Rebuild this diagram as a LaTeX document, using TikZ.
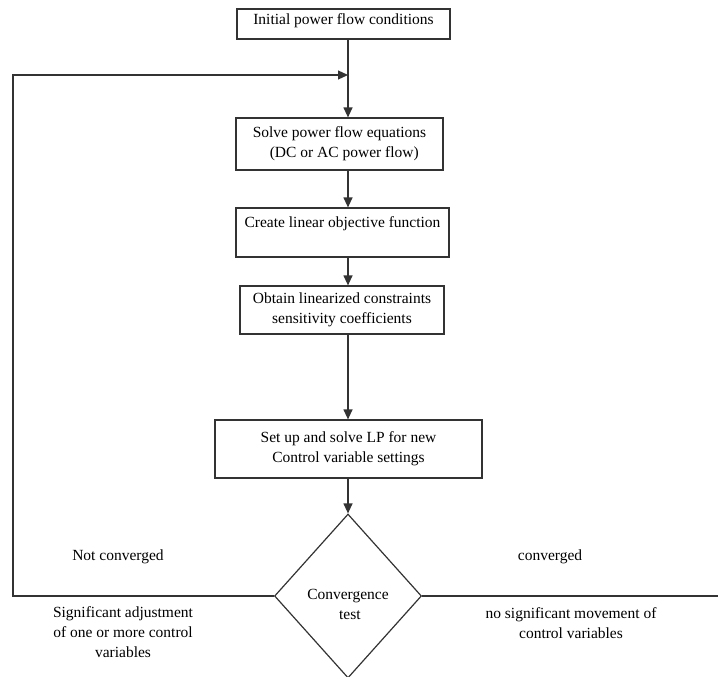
\documentclass[tikz,border=0pt]{standalone}
\usepackage{fontspec}
\setmainfont{Liberation Serif}
\usetikzlibrary{shapes.geometric,arrows.meta}
\begin{document}
\begin{tikzpicture}[x=1pt,y=-1pt,
    font=\fontsize{15.5}{20}\selectfont,
    stepbox/.style={draw=black!80,line width=1.2pt,align=center,inner sep=0pt},
    flow/.style={draw=black!80,line width=1.2pt,-{Triangle[length=10pt,width=9pt]}},
    plain/.style={draw=black!80,line width=1.2pt},
    lbl/.style={align=center,inner sep=0pt}]
    \useasboundingbox (0,0) rectangle (718,677);

    % process boxes
    \node[stepbox,minimum width=213pt,minimum height=30pt,text depth=9pt] (init) at (343.5,24) {Initial power flow conditions};
    \node[stepbox,align=left,minimum width=207pt,minimum height=52pt] (solve) at (339.5,144) {Solve power flow equations\\ \hspace*{1.1em}(DC or AC power flow)};
    \node[stepbox,minimum width=213pt,minimum height=49pt] (objective) at (342.5,232.5) {Create linear objective function\\ ~};
    \node[stepbox,minimum width=204pt,minimum height=48pt] (sens) at (342,310) {Obtain linearized constraints\\sensitivity coefficients};
    \node[stepbox,minimum width=267pt,minimum height=58pt] (lp) at (348.5,449) {Set up and solve LP for new\\Control variable settings};

    % decision
    \node[diamond,draw=black!80,line width=1.2pt,minimum width=147pt,minimum height=164pt,inner sep=0pt] (test) at (348,596) {};
    \node[lbl] (testtxt) at (348,604) {Convergence\\ \ test};

    % main flow
    \draw[flow] (init.south -| test.north) -- (solve.north -| test.north);
    \draw[flow] (solve.south -| test.north) -- (objective.north -| test.north);
    \draw[flow] (objective.south -| test.north) -- (sens.north -| test.north);
    \draw[flow] (sens.south -| test.north) -- (lp.north -| test.north);
    \draw[flow] (lp.south -| test.north) -- (test.north);

    % feedback loop
    \coordinate (back) at (13,75);
    \draw[flow] (test.west) -| (back) -- (back -| test.north);

    % exit
    \coordinate (done) at (718,596);
    \draw[plain] (test.east) -- (done);

    % branch labels
    \node[lbl] (notconv) at (118,557) {Not converged};
    \node[lbl] (adjust) at (123,632) {Significant adjustment\\ of one or more control\\variables};
    \node[lbl] (conv) at (550,557) {converged};
    \node[lbl] (nomove) at (571,623.5) {no significant movement of\\ control variables};
\end{tikzpicture}
\end{document}
